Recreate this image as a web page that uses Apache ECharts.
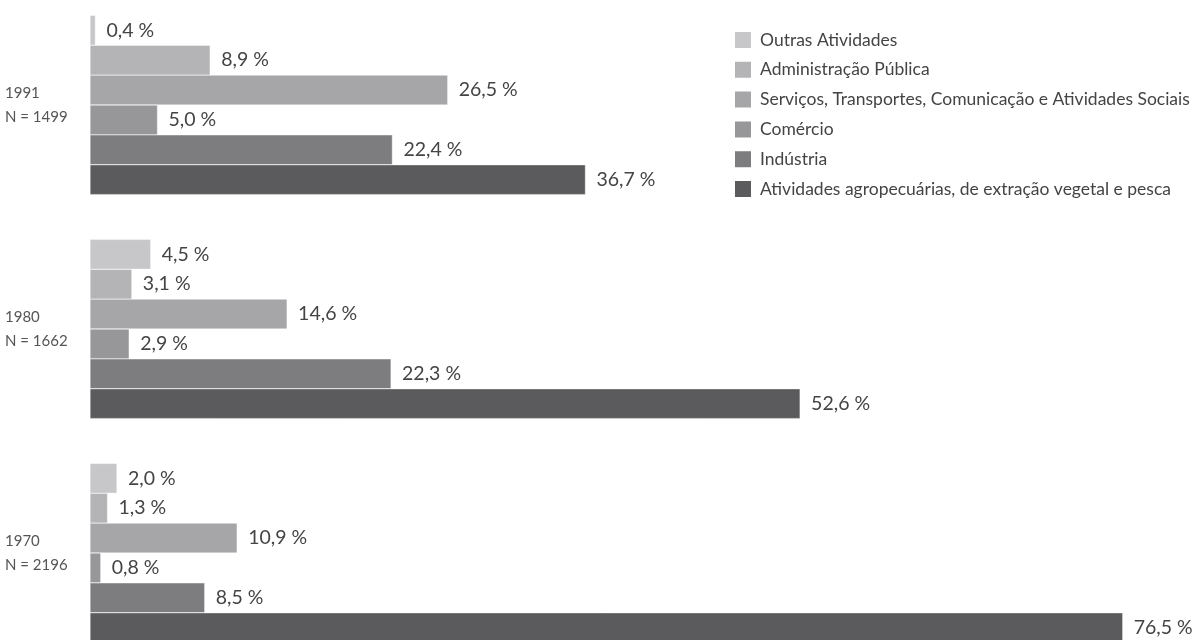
<!DOCTYPE html>
<html><head><meta charset="utf-8">
<script src="https://cdn.jsdelivr.net/npm/echarts@6/dist/echarts.min.js"></script>
<style>html,body{margin:0;padding:0;background:#fff}#c{width:1198px;height:640px}</style>
</head><body><div id="c"></div>
<script>
const years = ['1970', '1980', '1991'];
const yearLabels = ['1970\nN = 2196', '1980\nN = 1662', '1991\nN = 1499'];
const seriesNames = ['Outras Atividades', 'Administração Pública', 'Serviços, Transportes, Comunicação e Atividades Sociais', 'Comércio', 'Indústria', 'Atividades agropecuárias, de extração vegetal e pesca'];
const outras = [2.0, 4.5, 0.4];
const administracao = [1.3, 3.1, 8.9];
const servicos = [10.9, 14.6, 26.5];
const comercio = [0.8, 2.9, 5.0];
const industria = [8.5, 22.3, 22.4];
const agro = [76.5, 52.6, 36.7];
const values = [outras, administracao, servicos, comercio, industria, agro];
const colors = ['#c7c7c9', '#b4b4b7', '#a6a6a9', '#97979a', '#7d7d80', '#5b5b5d'];

const chart = echarts.init(document.getElementById('c'));
const font = 'Lato';
const series = values.map((v, i) => ({
  name: seriesNames[i],
  type: 'bar',
  data: v,
  barGap: '0%',
  barCategoryGap: '20%',
  itemStyle: { color: colors[i], borderColor: '#ffffff', borderWidth: 0.4 },
  label: {
    show: true, position: 'right', distance: 11,
    color: '#444', fontFamily: font, fontSize: 19.5,
    formatter: p => p.value.toFixed(1).replace('.', ',') + ' %'
  },
  emphasis: { disabled: true }
}));
chart.setOption({
  animation: false,
  textStyle: { fontFamily: font },
  grid: { left: 90, top: -7, height: 672, width: 1080, outerBoundsMode: 'none', containLabel: false },
  xAxis: { type: 'value', min: 0, max: 80, show: false },
  yAxis: {
    type: 'category', data: years,
    axisLine: { show: false }, axisTick: { show: false },
    axisLabel: {
      formatter: (v, idx) => yearLabels[idx],
      align: 'left', margin: 85, color: '#555', fontSize: 15, lineHeight: 24, fontFamily: font
    }
  },
  legend: {
    orient: 'vertical', left: 733, top: 30, padding: 0,
    data: seriesNames.slice(),
    itemWidth: 18, itemHeight: 18, itemGap: 9.8,
    icon: 'rect',
    textStyle: { color: '#444', fontSize: 17.5, fontFamily: font, padding: [0, 0, 0, 3] },
    selectedMode: false
  },
  series: series
});
</script></body></html>
